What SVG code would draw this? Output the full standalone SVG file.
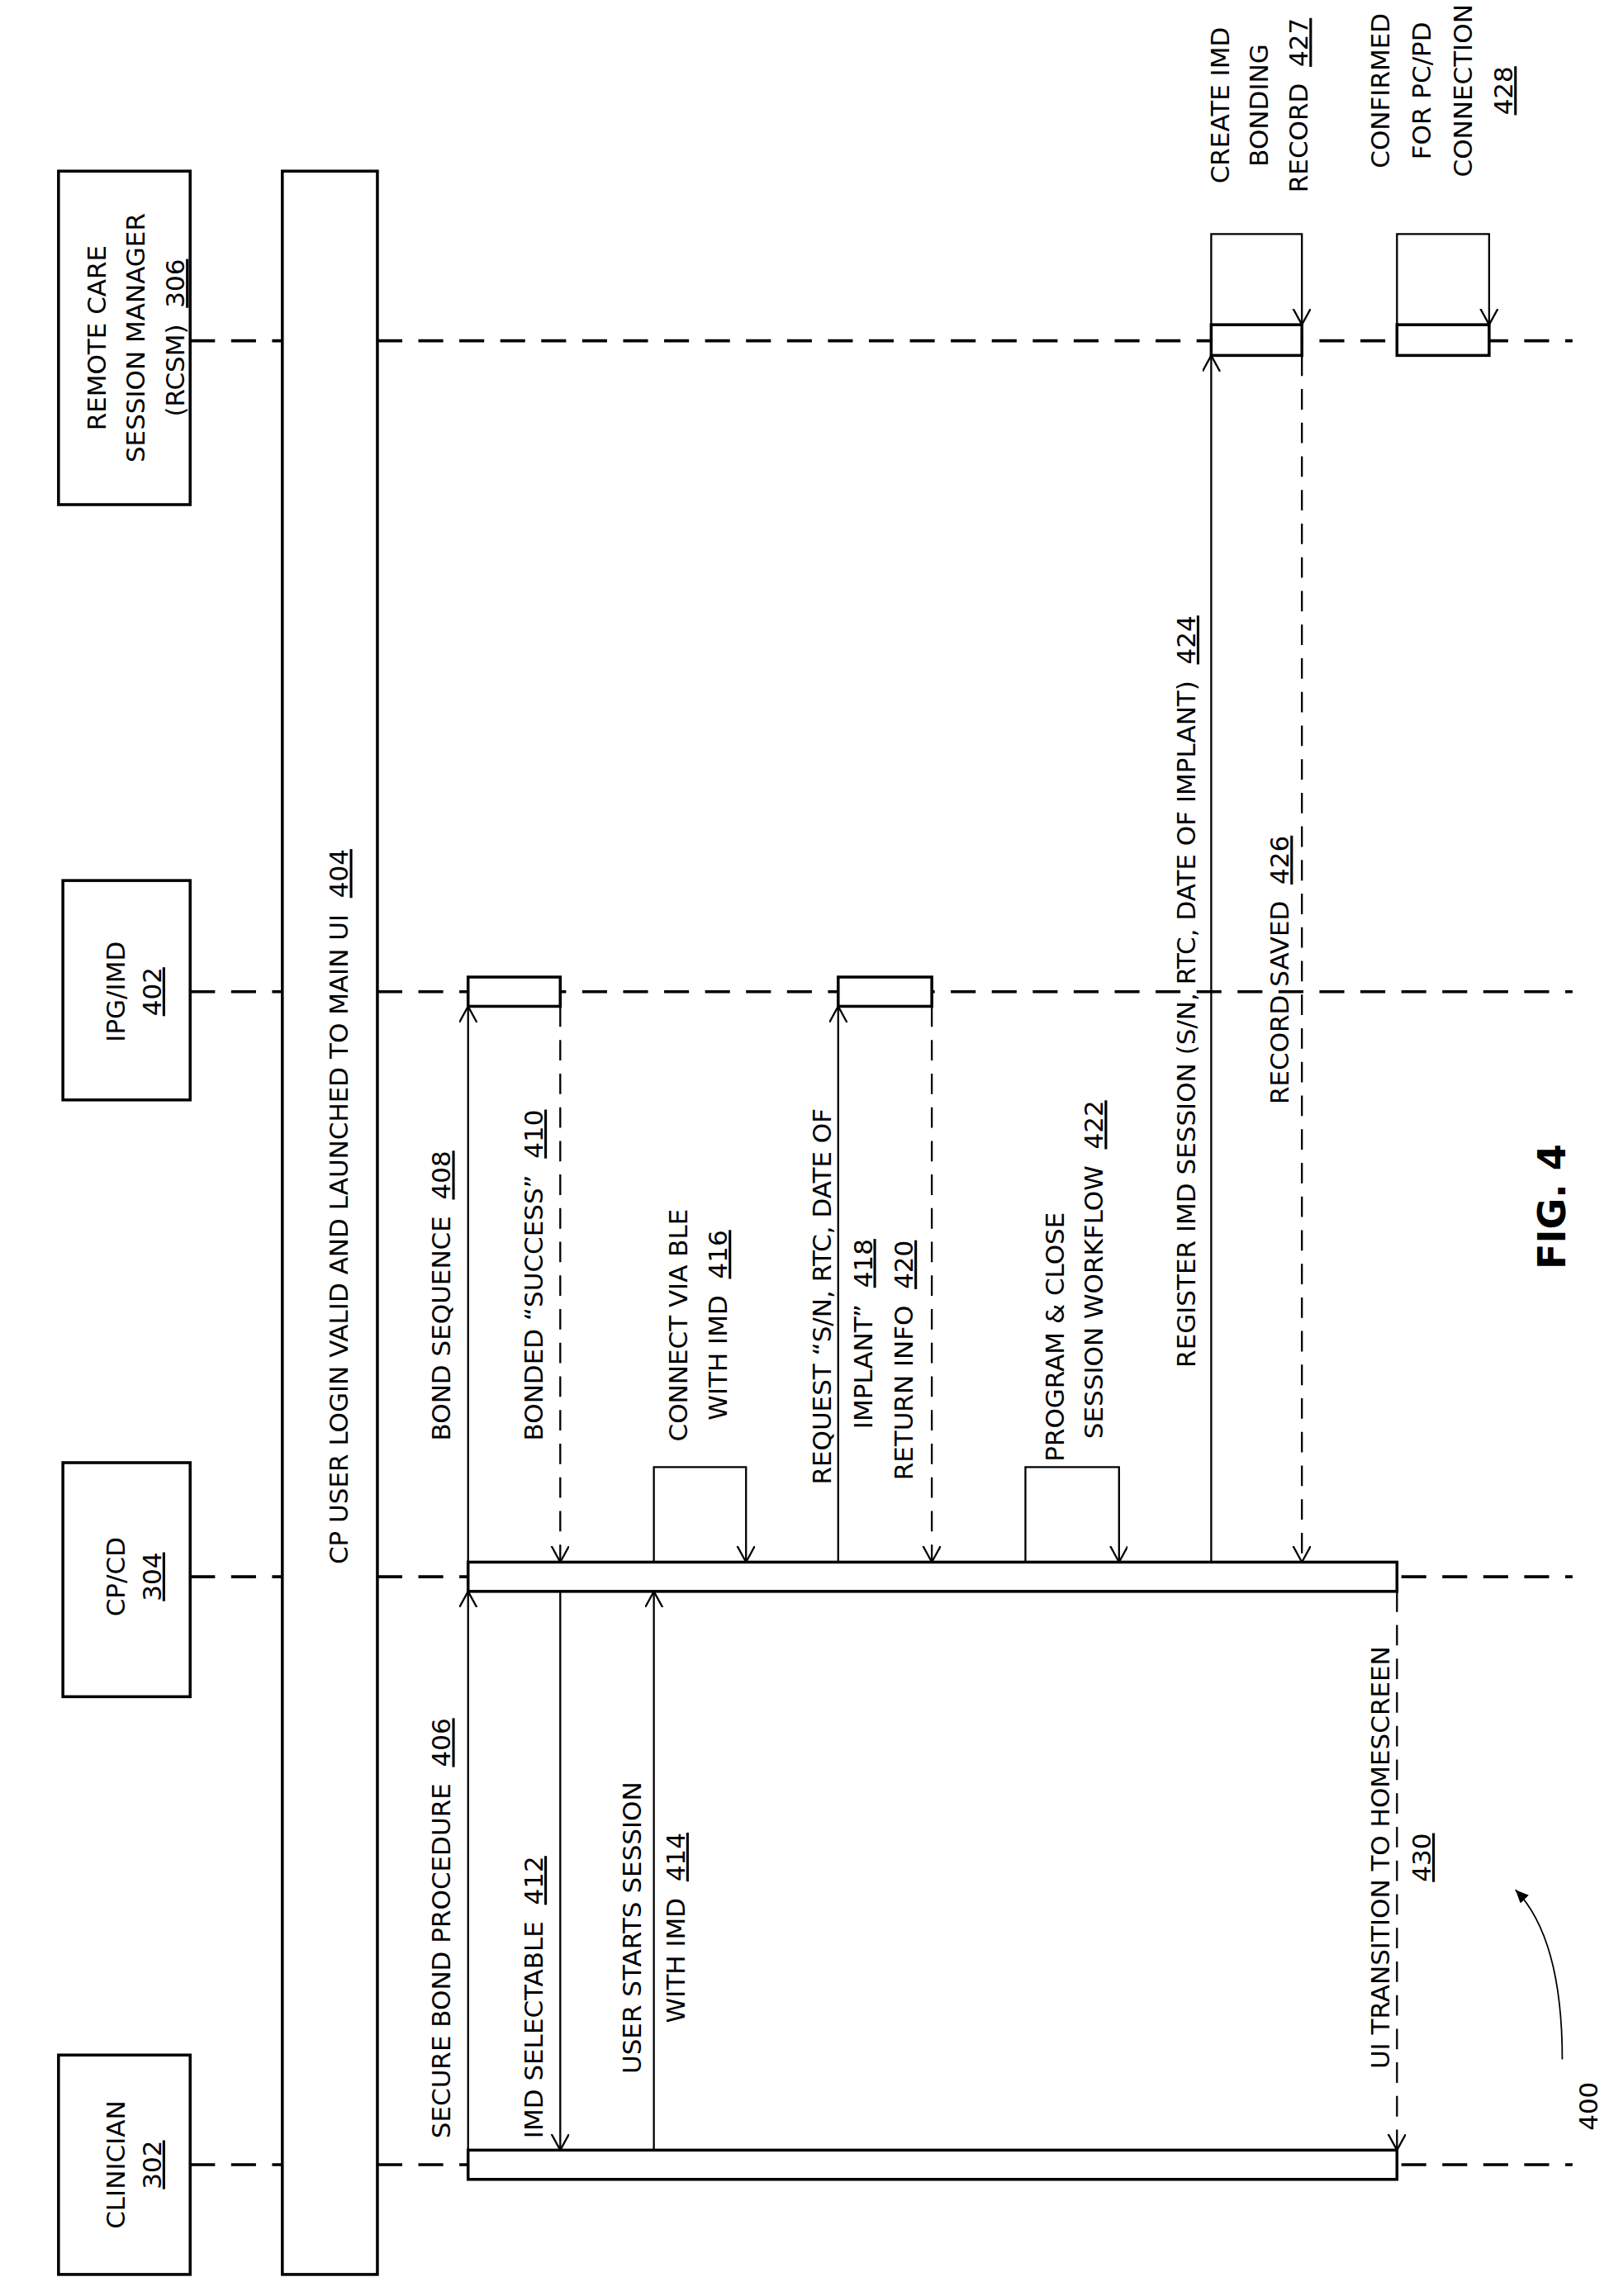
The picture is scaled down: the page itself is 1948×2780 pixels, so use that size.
<svg xmlns="http://www.w3.org/2000/svg" width="1948" height="2780" viewBox="0 0 1948 2780">
<style>
.t{font-family:"DejaVu Sans","Liberation Sans",sans-serif;font-size:17.5px;fill:#000;white-space:pre}
.u{text-decoration:underline}
.box{fill:#fff;stroke:#000;stroke-width:2}
.life{stroke:#000;stroke-width:2;stroke-dasharray:17 11;fill:none}
.msg{stroke:#000;stroke-width:1.3;fill:none}
.dmsg{stroke:#000;stroke-width:1.3;fill:none;stroke-dasharray:14 9}
</style>
<defs>
<marker id="a" markerUnits="userSpaceOnUse" markerWidth="14" markerHeight="14" refX="11" refY="6" orient="auto">
<path d="M0,0 L11,6 L0,12" fill="none" stroke="#000" stroke-width="1.3"/>
</marker>
<marker id="f" markerUnits="userSpaceOnUse" markerWidth="12" markerHeight="12" refX="9" refY="4" orient="auto">
<path d="M0,0 L9,4 L0,8 Z" fill="#000"/>
</marker>
</defs>
<rect width="1948" height="2780" fill="#fff"/>
<g transform="scale(1.771)">
<g id="connectors">
<path class="life" d="M130,233 H193 M258,233 H1075"/>
<path class="life" d="M130,678 H193 M258,678 H1075"/>
<path class="life" d="M130,1078 H193 M258,1078 H1075"/>
<path class="life" d="M130,1480 H193 M258,1480 H1075"/>
<path class="msg" d="M320,1470 V1088" marker-end="url(#a)"/>
<path class="msg" d="M320,1068 V688" marker-end="url(#a)"/>
<path class="dmsg" d="M383,688 V1068" marker-end="url(#a)"/>
<path class="msg" d="M383,1088 V1470" marker-end="url(#a)"/>
<path class="msg" d="M447,1470 V1088" marker-end="url(#a)"/>
<path class="msg" d="M447,1068 V1003 H510 V1068" marker-end="url(#a)"/>
<path class="msg" d="M573,1068 V688" marker-end="url(#a)"/>
<path class="dmsg" d="M637,688 V1068" marker-end="url(#a)"/>
<path class="msg" d="M701,1068 V1003 H765 V1068" marker-end="url(#a)"/>
<path class="msg" d="M828,1068 V243" marker-end="url(#a)"/>
<path class="dmsg" d="M890,243 V1068" marker-end="url(#a)"/>
<path class="msg" d="M828,222 V160 H890 V222" marker-end="url(#a)"/>
<path class="msg" d="M955,222 V160 H1018 V222" marker-end="url(#a)"/>
<path class="dmsg" d="M955,1088 V1470" marker-end="url(#a)"/>
<path d="M1068,1408 Q1068,1325 1036,1292" stroke="#000" stroke-width="1" fill="none" marker-end="url(#f)"/>
</g>
<g id="rcsm"><rect class="box" x="40" y="117" width="90" height="228"/>
<text class="t" text-anchor="middle" transform="translate(72,231) rotate(-90)">REMOTE CARE</text>
<text class="t" text-anchor="middle" transform="translate(99,231) rotate(-90)">SESSION MANAGER</text>
<text class="t" text-anchor="middle" transform="translate(126,231) rotate(-90)">(RCSM)  <tspan class="u">306</tspan></text></g>
<g id="ipg"><rect class="box" x="43" y="602" width="87" height="150"/>
<text class="t" text-anchor="middle" transform="translate(85,678) rotate(-90)">IPG/IMD</text>
<text class="t" text-anchor="middle" transform="translate(110,678) rotate(-90)"><tspan class="u">402</tspan></text></g>
<g id="cp"><rect class="box" x="43" y="1000" width="87" height="160"/>
<text class="t" text-anchor="middle" transform="translate(85,1078) rotate(-90)">CP/CD</text>
<text class="t" text-anchor="middle" transform="translate(110,1078) rotate(-90)"><tspan class="u">304</tspan></text></g>
<g id="clinician"><rect class="box" x="40" y="1405" width="90" height="150"/>
<text class="t" text-anchor="middle" transform="translate(85,1480) rotate(-90)">CLINICIAN</text>
<text class="t" text-anchor="middle" transform="translate(110,1480) rotate(-90)"><tspan class="u">302</tspan></text></g>
<g id="mainbar"><rect class="box" x="193" y="117" width="65" height="1438"/>
<text class="t" text-anchor="middle" transform="translate(238,825) rotate(-90)">CP USER LOGIN VALID AND LAUNCHED TO MAIN UI  <tspan class="u">404</tspan></text></g>
<g id="activations">
<rect class="box" x="320" y="1068" width="635" height="20"/>
<rect class="box" x="320" y="1470" width="635" height="20"/>
<rect class="box" x="320" y="668" width="63" height="20"/>
<rect class="box" x="573" y="668" width="64" height="20"/>
<rect class="box" x="828" y="222" width="62" height="21"/>
<rect class="box" x="955" y="222" width="63" height="21"/>
</g>
<g id="labels">
<text class="t" transform="translate(308,1462) rotate(-90)">SECURE BOND PROCEDURE  <tspan class="u">406</tspan></text>
<text class="t" transform="translate(308,985) rotate(-90)">BOND SEQUENCE  <tspan class="u">408</tspan></text>
<text class="t" transform="translate(371,985) rotate(-90)">BONDED “SUCCESS”  <tspan class="u">410</tspan></text>
<text class="t" transform="translate(371,1462) rotate(-90)">IMD SELECTABLE  <tspan class="u">412</tspan></text>
<text class="t" text-anchor="middle" transform="translate(438,1318) rotate(-90)">USER STARTS SESSION</text>
<text class="t" text-anchor="middle" transform="translate(468,1318) rotate(-90)">WITH IMD  <tspan class="u">414</tspan></text>
<text class="t" text-anchor="middle" transform="translate(470,906) rotate(-90)">CONNECT VIA BLE</text>
<text class="t" text-anchor="middle" transform="translate(497,906) rotate(-90)">WITH IMD  <tspan class="u">416</tspan></text>
<text class="t" transform="translate(568,1015) rotate(-90)">REQUEST “S/N, RTC, DATE OF</text>
<text class="t" text-anchor="middle" transform="translate(596,912) rotate(-90)">IMPLANT”  <tspan class="u">418</tspan></text>
<text class="t" text-anchor="middle" transform="translate(624,930) rotate(-90)">RETURN INFO  <tspan class="u">420</tspan></text>
<text class="t" text-anchor="middle" transform="translate(727,914) rotate(-90)">PROGRAM &amp; CLOSE</text>
<text class="t" text-anchor="middle" transform="translate(754,868) rotate(-90)">SESSION WORKFLOW  <tspan class="u">422</tspan></text>
<text class="t" transform="translate(817,935) rotate(-90)">REGISTER IMD SESSION (S/N, RTC, DATE OF IMPLANT)  <tspan class="u">424</tspan></text>
<text class="t" transform="translate(881,755) rotate(-90)">RECORD SAVED  <tspan class="u">426</tspan></text>
<text class="t" text-anchor="middle" transform="translate(840,72) rotate(-90)">CREATE IMD</text>
<text class="t" text-anchor="middle" transform="translate(867,72) rotate(-90)">BONDING</text>
<text class="t" text-anchor="middle" transform="translate(894,72) rotate(-90)">RECORD  <tspan class="u">427</tspan></text>
<text class="t" text-anchor="middle" transform="translate(950,62) rotate(-90)">CONFIRMED</text>
<text class="t" text-anchor="middle" transform="translate(978,62) rotate(-90)">FOR PC/PD</text>
<text class="t" text-anchor="middle" transform="translate(1006,62) rotate(-90)">CONNECTION</text>
<text class="t" text-anchor="middle" transform="translate(1034,62) rotate(-90)"><tspan class="u">428</tspan></text>
<text class="t" text-anchor="middle" transform="translate(950,1270) rotate(-90)">UI TRANSITION TO HOMESCREEN</text>
<text class="t" text-anchor="middle" transform="translate(978,1270) rotate(-90)"><tspan class="u">430</tspan></text>
<text class="t" text-anchor="middle" style="font-weight:bold;font-size:26px" transform="translate(1070,825) rotate(-90)">FIG. 4</text>
<text class="t" text-anchor="middle" transform="translate(1092,1440) rotate(-90)">400</text>
</g>
</g>
</svg>
